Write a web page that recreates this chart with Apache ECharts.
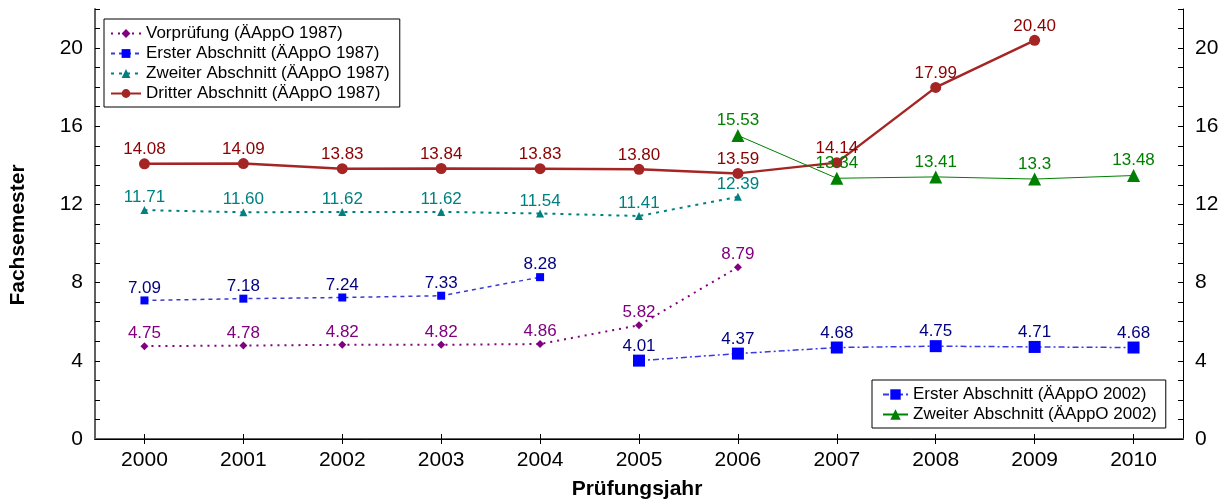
<!DOCTYPE html>
<html>
<head>
<meta charset="utf-8">
<script src="https://cdn.jsdelivr.net/npm/echarts@6/dist/echarts.min.js"></script>
<style>
html,body{margin:0;padding:0;background:#fff;}
#chart{width:1229px;height:501px;}
</style>
</head>
<body>
<div id="chart"></div>
<script>
// ---- Data ----
const years = ['2000','2001','2002','2003','2004','2005','2006','2007','2008','2009','2010'];

const vorpYears = ['2000','2001','2002','2003','2004','2005','2006'];
const vorpValues = [4.75, 4.78, 4.82, 4.82, 4.86, 5.82, 8.79];

const erster87Years = ['2000','2001','2002','2003','2004'];
const erster87Values = [7.09, 7.18, 7.24, 7.33, 8.28];

const zweiter87Years = ['2000','2001','2002','2003','2004','2005','2006'];
const zweiter87Values = [11.71, 11.60, 11.62, 11.62, 11.54, 11.41, 12.39];

const dritterYears = ['2000','2001','2002','2003','2004','2005','2006','2007','2008','2009'];
const dritterValues = [14.08, 14.09, 13.83, 13.84, 13.83, 13.80, 13.59, 14.14, 17.99, 20.40];

const erster02Years = ['2005','2006','2007','2008','2009','2010'];
const erster02Values = [4.01, 4.37, 4.68, 4.75, 4.71, 4.68];

const zweiter02Years = ['2006','2007','2008','2009','2010'];
const zweiter02Values = [15.53, 13.34, 13.41, 13.3, 13.48];

const yTicks = [0, 4, 8, 12, 16, 20];

// ---- Chart ----
const FONT = 'Liberation Sans, Arial, Helvetica, sans-serif';
const pairs = (xs, vs) => xs.map((x, i) => [x, vs[i]]);
const fixed2 = p => p.value[1].toFixed(2);
const raw = p => String(p.value[1]);

function lbl(color, fmt) {
  return { show: true, position: 'top', distance: 0, color: color, fontSize: 17, fontFamily: FONT, formatter: fmt };
}

const chart = echarts.init(document.getElementById('chart'), null, { renderer: 'canvas' });

const yAxisBase = {
  type: 'value', min: 0, max: 22, interval: 1,
  splitLine: { show: false },
  axisTick: { show: true, inside: true, length: 5, lineStyle: { color: '#000', width: 1 } },
  axisLabel: {
    margin: 12, fontSize: 21, color: '#000', fontFamily: FONT,
    formatter: v => (yTicks.indexOf(v) >= 0 ? String(v) : '')
  }
};

const option = {
  backgroundColor: '#fff',
  animation: false,
  grid: { left: 95, right: 46, top: 9, bottom: 62, containLabel: false },
  xAxis: [
    {
      type: 'category', data: years, position: 'bottom', boundaryGap: true,
      axisLine: { show: true, lineStyle: { color: '#606060', width: 2 } },
      axisTick: { show: true, inside: true, alignWithLabel: true, length: 5, lineStyle: { color: '#000', width: 1 } },
      axisLabel: { margin: 11, fontSize: 21, color: '#000', fontFamily: FONT },
      splitLine: { show: false }
    },
    {
      type: 'category', data: years, position: 'top', boundaryGap: true,
      axisLine: { show: true, lineStyle: { color: '#000', width: 1 } },
      axisTick: { show: true, inside: true, alignWithLabel: true, length: 5, lineStyle: { color: '#000', width: 1 } },
      axisLabel: { show: false },
      splitLine: { show: false }
    }
  ],
  yAxis: [
    Object.assign({}, yAxisBase, {
      position: 'left',
      axisLine: { show: true, lineStyle: { color: '#606060', width: 2 } }
    }),
    Object.assign({}, yAxisBase, {
      position: 'right',
      axisLine: { show: true, lineStyle: { color: '#000', width: 1 } }
    })
  ],
  legend: [
    {
      data: ['Vorprüfung (ÄAppO 1987)', 'Erster Abschnitt (ÄAppO 1987)', 'Zweiter Abschnitt (ÄAppO 1987)', 'Dritter Abschnitt (ÄAppO 1987)'],
      orient: 'vertical', left: 104, top: 19,
      padding: [6, 10, 5, 6],
      itemWidth: 30, itemHeight: 11, itemGap: 3, itemTextGap: 8,
      borderColor: '#000', borderWidth: 1, backgroundColor: '#fff',
      textStyle: { fontSize: 17, color: '#000', fontFamily: FONT, lineHeight: 17 },
      selectedMode: false
    },
    {
      data: ['Erster Abschnitt (ÄAppO 2002)', 'Zweiter Abschnitt (ÄAppO 2002)'],
      orient: 'vertical', left: 872, top: 380,
      padding: [6, 9, 5, 10],
      itemWidth: 25, itemHeight: 13, itemGap: 3, itemTextGap: 11,
      borderColor: '#000', borderWidth: 1, backgroundColor: '#fff',
      textStyle: { fontSize: 17, color: '#000', fontFamily: FONT, lineHeight: 17 },
      selectedMode: false
    }
  ],
  graphic: [
    {
      type: 'text', x: 18, y: 235, rotation: Math.PI / 2,
      style: { text: 'Fachsemester', font: 'bold 21px ' + FONT, fill: '#000', align: 'center', verticalAlign: 'middle' }
    },
    {
      type: 'text', x: 637, y: 489,
      style: { text: 'Prüfungsjahr', font: 'bold 21px ' + FONT, fill: '#000', align: 'center', verticalAlign: 'middle' }
    }
  ],
  series: [
    {
      name: 'Vorprüfung (ÄAppO 1987)', type: 'line',
      data: pairs(vorpYears, vorpValues),
      symbol: 'diamond', symbolSize: 8,
      itemStyle: { color: '#800080' },
      lineStyle: { color: '#800080', width: 2, type: [2, 5] },
      label: lbl('#800080', fixed2)
    },
    {
      name: 'Erster Abschnitt (ÄAppO 1987)', type: 'line',
      data: pairs(erster87Years, erster87Values),
      symbol: 'rect', symbolSize: 8,
      itemStyle: { color: '#0000ff' },
      lineStyle: { color: '#3a3ad0', width: 1.5, type: [4, 4] },
      label: lbl('#000080', fixed2)
    },
    {
      name: 'Zweiter Abschnitt (ÄAppO 1987)', type: 'line',
      data: pairs(zweiter87Years, zweiter87Values),
      symbol: 'triangle', symbolSize: 8,
      itemStyle: { color: '#008080' },
      lineStyle: { color: '#008080', width: 2, type: [3, 5] },
      label: lbl('#008080', fixed2)
    },
    {
      name: 'Dritter Abschnitt (ÄAppO 1987)', type: 'line',
      data: pairs(dritterYears, dritterValues),
      symbol: 'circle', symbolSize: 11,
      itemStyle: { color: '#a52525' },
      lineStyle: { color: '#a52525', width: 2.5, type: 'solid' },
      label: lbl('#8b0000', fixed2)
    },
    {
      name: 'Erster Abschnitt (ÄAppO 2002)', type: 'line',
      data: pairs(erster02Years, erster02Values),
      symbol: 'rect', symbolSize: 12,
      itemStyle: { color: '#0000ff' },
      lineStyle: { color: '#3a3ae0', width: 1.5, type: [6, 3, 2, 3] },
      label: lbl('#000080', fixed2)
    },
    {
      name: 'Zweiter Abschnitt (ÄAppO 2002)', type: 'line',
      data: pairs(zweiter02Years, zweiter02Values),
      symbol: 'triangle', symbolSize: 13,
      itemStyle: { color: '#008000' },
      lineStyle: { color: '#008000', width: 1, type: 'solid' },
      label: lbl('#008000', raw)
    }
  ]
};

chart.setOption(option);
</script>
</body>
</html>
